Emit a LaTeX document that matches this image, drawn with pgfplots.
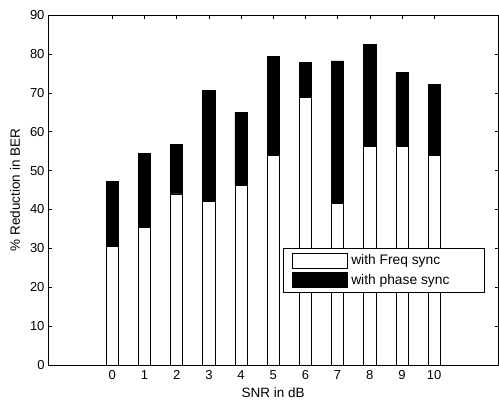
\documentclass[border=0pt]{standalone}
\usepackage{fontspec}
\setmainfont{Liberation Sans}
\usepackage{pgfplots}
\pgfplotsset{compat=1.18}
\begin{document}
\begin{tikzpicture}
\begin{axis}[
  scale only axis,
  width=450.5bp, height=350bp,
  xmin=-2, xmax=12, ymin=0, ymax=90,
  ybar stacked, bar width=0.38,
  xtick={0,1,2,3,4,5,6,7,8,9,10},
  ytick={0,10,20,30,40,50,60,70,80,90},
  tick align=inside, tick pos=both,
  major tick length=4bp,
  every tick/.style={black, line width=0.5bp},
  axis line style={line width=0.7bp},
  /pgf/number format/assume math mode=true,
  tick label style={font=\fontsize{13bp}{15bp}\selectfont},
  label style={font=\fontsize{13.5bp}{15bp}\selectfont},
  xticklabel shift=2bp,
  xlabel={SNR in dB},
  ylabel={\% Reduction in BER},
  xlabel style={at={(rel axis cs:0.5,-0.08)}, anchor=center},
  ylabel style={at={(rel axis cs:-0.0733,0.5)}, anchor=center, rotate=0},
  legend style={at={(rel axis cs:0.521,0.206)}, anchor=south west,
    draw=black, fill=white, line width=0.7bp, inner xsep=8.5bp, inner ysep=4.6bp,
    row sep=3.7bp, font=\fontsize{13.8bp}{15bp}\selectfont,
    legend cell align=left},
  legend image code/.code={\draw[#1, draw=black, line width=0.7bp] (0bp,-7.5bp) rectangle (55bp,7.5bp);},
]
\addplot[fill=white, draw=black, line width=0.7bp] coordinates {
(0,30.6) (1,35.4) (2,44.0) (3,42.0) (4,46.2) (5,53.8) (6,68.9) (7,41.6) (8,56.3) (9,56.3) (10,53.8)};
\addlegendentry{\makebox[125bp][l]{\hspace{2bp}with Freq sync}}
\addplot[fill=black, draw=black, line width=0.7bp] coordinates {
(0,16.6) (1,19.0) (2,12.7) (3,28.7) (4,18.8) (5,25.6) (6,9.0) (7,36.6) (8,26.2) (9,18.9) (10,18.3)};
\addlegendentry{\makebox[125bp][l]{\hspace{2bp}with phase sync}}
\end{axis}
\pgfresetboundingbox
\path (-48bp,-38bp) rectangle (451bp,365bp);
\end{tikzpicture}
\end{document}
